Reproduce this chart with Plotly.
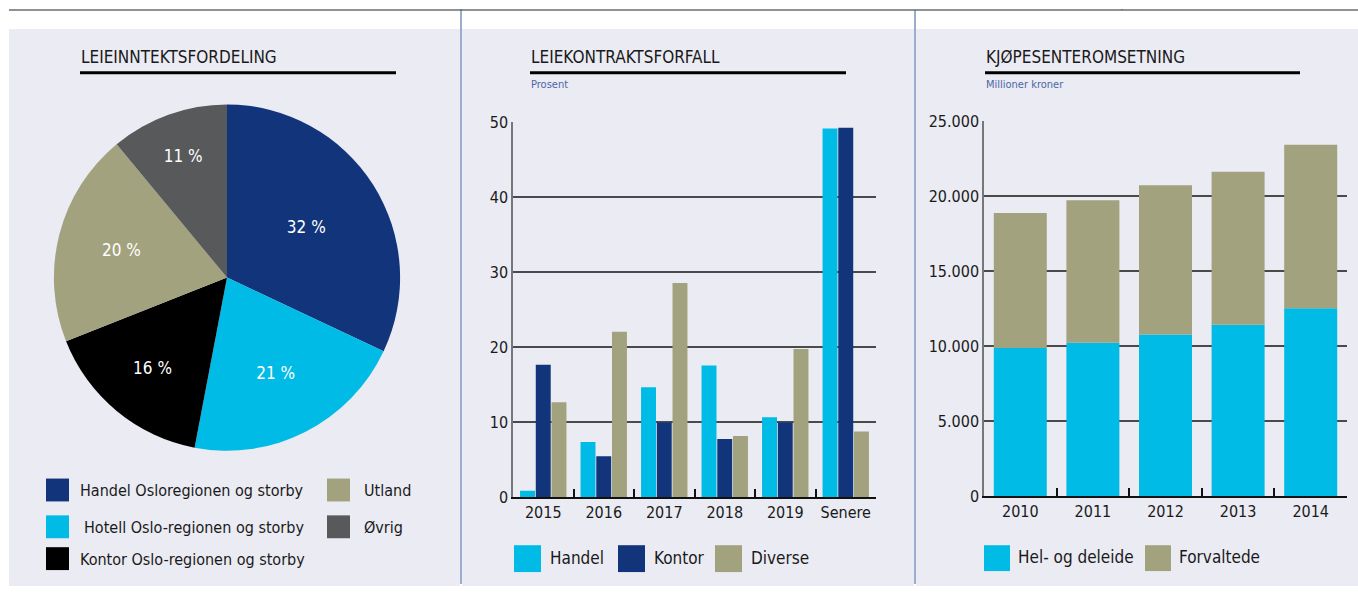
import plotly.graph_objects as go

W, H = 1358, 594
FONT = "Liberation Sans Narrow, DejaVu Sans Condensed, Arial Narrow, sans-serif"

# ---------------- data ----------------
pie_labels = ["Handel Osloregionen og storby", "Hotell Oslo-regionen og storby",
              "Kontor Oslo-regionen og storby", "Utland", "Øvrig"]
pie_values = [32, 21, 16, 20, 11]
pie_colors = ["#11347a", "#00bbe6", "#000000", "#a3a27e", "#58595b"]

forfall_cats = ["2015", "2016", "2017", "2018", "2019", "Senere"]
handel = [0.9, 7.4, 14.7, 17.6, 10.7, 49.2]
kontor = [17.7, 5.5, 10.0, 7.8, 10.0, 49.3]
diverse = [12.7, 22.1, 28.6, 8.2, 19.8, 8.8]

years = ["2010", "2011", "2012", "2013", "2014"]
hel_deleide = [9900, 10250, 10800, 11450, 12550]
forvaltede = [9000, 9500, 9950, 10200, 10900]

C_DARK = "#11347a"
C_CYAN = "#00bbe6"
C_KHAKI = "#a3a27e"
PANEL = "#ebebf3"

# the drawing area is rendered in screen rows 8..586
TOP, PH = 8, 578


def px(x):
    return x / W


def py(y):
    return 1 - (y - TOP) / PH


fig = go.Figure()

# ---------------- pie ----------------
fig.add_trace(go.Pie(
    labels=pie_labels, values=pie_values, sort=False, direction="clockwise",
    rotation=0, marker=dict(colors=pie_colors, line=dict(width=0)),
    texttemplate="%{value} %", textposition="inside",
    insidetextorientation="horizontal",
    textfont=dict(color="white", size=17, family=FONT),
    domain=dict(x=[px(53), px(401)], y=[py(452), py(104)]),
    showlegend=False, hoverinfo="label+value",
))

# ---------------- grouped bars ----------------
for name, vals, col in [("Handel", handel, C_CYAN), ("Kontor", kontor, C_DARK),
                        ("Diverse", diverse, C_KHAKI)]:
    fig.add_trace(go.Bar(x=forfall_cats, y=vals, name=name, marker_color=col,
                         marker_line_width=0, xaxis="x", yaxis="y", showlegend=False))

# ---------------- stacked bars ----------------
fig.add_trace(go.Bar(x=years, y=hel_deleide, name="Hel- og deleide", marker_color=C_CYAN,
                     marker_line_width=0, xaxis="x2", yaxis="y2", width=0.73,
                     offset=-0.365, showlegend=False))
fig.add_trace(go.Bar(x=years, y=forvaltede, base=hel_deleide, name="Forvaltede",
                     marker_color=C_KHAKI, marker_line_width=0, xaxis="x2", yaxis="y2",
                     width=0.73, offset=-0.365, showlegend=False))

axis_font = dict(family=FONT, size=16, color="#1a1a1a")
common_x = dict(type="category", showline=True, linecolor="#111", linewidth=1.5,
                ticks="inside", tickson="boundaries", ticklen=9, tickcolor="#111",
                tickwidth=1.5, showgrid=False, tickfont=axis_font, fixedrange=True)
common_y = dict(showline=True, linecolor="#777", linewidth=1.5, ticks="",
                showgrid=True, gridcolor="#4a4a4a", gridwidth=1.5, zeroline=False,
                tickfont=axis_font, fixedrange=True)

fig.update_layout(
    width=W, height=H, margin=dict(l=0, r=0, t=0, b=0),
    paper_bgcolor="white", plot_bgcolor="rgba(0,0,0,0)",
    separators=",.",
    barmode="group", bargap=0.22, bargroupgap=0.05,
    font=dict(family=FONT),
    xaxis=dict(domain=[px(513), px(876)], anchor="y", **common_x),
    yaxis=dict(domain=[py(499), py(122)], anchor="x", range=[0, 50],
               tickvals=[0, 10, 20, 30, 40, 50], **common_y),
    xaxis2=dict(domain=[px(984), px(1347)], anchor="y2", **common_x),
    yaxis2=dict(domain=[py(498), py(121)], anchor="x2", range=[0, 25000],
                tickvals=[0, 5000, 10000, 15000, 20000, 25000], tickformat=",d",
                **common_y),
    showlegend=False,
)

shapes = []
# panel backgrounds
for x0, x1 in [(9, 460), (462, 914), (916, 1358)]:
    shapes.append(dict(type="rect", xref="paper", yref="paper", x0=px(x0), x1=px(x1),
                       y0=py(588), y1=py(28), fillcolor=PANEL, line=dict(width=0),
                       layer="below"))
# frame lines
shapes.append(dict(type="line", xref="paper", yref="paper", x0=px(9), x1=1,
                   y0=py(9), y1=py(9), line=dict(color="#6d6d6d", width=1.5)))
shapes.append(dict(type="line", xref="paper", yref="paper", x0=px(461), x1=px(461),
                   y0=1, y1=0, line=dict(color="#3a5a9c", width=1)))
shapes.append(dict(type="line", xref="paper", yref="paper", x0=px(915), x1=px(915),
                   y0=py(9), y1=0, line=dict(color="#3a5a9c", width=1)))
shapes.append(dict(type="line", xref="paper", yref="paper", x0=px(1122), x1=px(1122),
                   y0=1, y1=py(9), line=dict(color="#3a5a9c", width=1)))
# title underlines
for x0, x1 in [(80, 396), (530, 846), (985, 1300)]:
    shapes.append(dict(type="line", xref="paper", yref="paper", x0=px(x0), x1=px(x1),
                       y0=py(72), y1=py(72), line=dict(color="#000", width=3)))

annotations = []


def text(x, y, s, size=16, color="#1a1a1a", anchor="left"):
    annotations.append(dict(x=px(x), y=py(y), xref="paper", yref="paper", text=s,
                            showarrow=False, xanchor=anchor, yanchor="middle",
                            font=dict(family=FONT, size=size, color=color)))


def legend_box(x0, y0, size, color):
    shapes.append(dict(type="rect", xref="paper", yref="paper", x0=px(x0),
                       x1=px(x0 + size), y0=py(y0 + size), y1=py(y0),
                       fillcolor=color, line=dict(width=0)))


# titles
text(79, 56, "LEIEINNTEKTSFORDELING", 17)
text(529, 56, "LEIEKONTRAKTSFORFALL", 17)
text(984, 56, "KJØPESENTEROMSETNING", 17)
text(529, 84, "Prosent", 11, "#4a67a3")
text(984, 84, "Millioner kroner", 11, "#4a67a3")

# pie legend
pie_leg_pos = [(46, 480, 78), (46, 517, 82), (46, 549, 78), (327, 480, 362), (327, 517, 362)]
for (bx, by, tx), lab, col in zip(pie_leg_pos, pie_labels, pie_colors):
    legend_box(bx, by, 23, col)
    text(tx, by + 12, lab, 16)

# grouped bar legend
for bx, lab, col in [(514, "Handel", C_CYAN), (618, "Kontor", C_DARK),
                     (715, "Diverse", C_KHAKI)]:
    legend_box(bx, 547, 27, col)
    text(bx + 34, 560, lab, 17)

# stacked bar legend
for bx, lab, col in [(984, "Hel- og deleide", C_CYAN), (1145, "Forvaltede", C_KHAKI)]:
    legend_box(bx, 547, 26, col)
    text(bx + 32, 559, lab, 17)

fig.update_layout(shapes=shapes, annotations=annotations)
fig.write_html("out.html")
